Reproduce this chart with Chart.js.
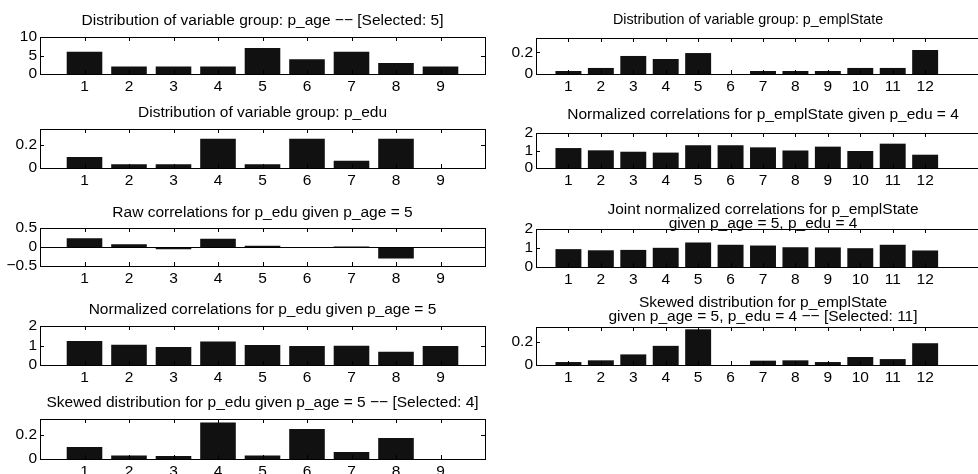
<!DOCTYPE html>
<html>
<head>
<meta charset="utf-8">
<title>Variable group distributions</title>
<script src="https://cdn.jsdelivr.net/npm/chart.js@4.4.1/dist/chart.umd.min.js"></script>
<style>
  html, body { margin: 0; padding: 0; background: #fff; }
  #fig { position: relative; width: 978px; height: 474px; overflow: hidden; }
  #fig canvas { position: absolute; }
</style>
</head>
<body>
<div id="fig"></div>
<script>
// categories
const ageCats = [1, 2, 3, 4, 5, 6, 7, 8, 9];
const eduCats = [1, 2, 3, 4, 5, 6, 7, 8, 9];
const emplCats = [1, 2, 3, 4, 5, 6, 7, 8, 9, 10, 11, 12];

// left column values
const ageCounts = [6, 2, 2, 2, 7, 4, 6, 3, 2];
const eduDist = [0.094, 0.031, 0.031, 0.25, 0.031, 0.25, 0.063, 0.25, 0];
const eduRawCorr = [0.23, 0.07, -0.06, 0.22, 0.035, -0.01, 0.01, -0.3, -0.01];
const eduNormCorr = [1.23, 1.04, 0.92, 1.2, 1.03, 0.97, 0.99, 0.68, 0.97];
const eduSkewed = [0.1, 0.03, 0.025, 0.305, 0.03, 0.25, 0.058, 0.175, 0];

// right column values
const emplDist = [0.028, 0.056, 0.167, 0.139, 0.194, 0, 0.028, 0.028, 0.028, 0.056, 0.056, 0.222];
const emplNormCorr = [1.14, 1.01, 0.93, 0.88, 1.3, 1.3, 1.18, 1.0, 1.22, 0.97, 1.39, 0.76];
const emplJointCorr = [0.94, 0.88, 0.9, 1.01, 1.29, 1.17, 1.13, 1.04, 1.03, 0.99, 1.17, 0.87];
const emplSkewed = [0.026, 0.041, 0.093, 0.168, 0.313, 0, 0.038, 0.041, 0.026, 0.07, 0.052, 0.191];

// y tick labels
const countTicks = [0, 5, 10];
const probTicks = [0, 0.2];
const corrTicks = [-0.5, 0, 0.5];
const normTicks = [0, 1, 2];

Chart.defaults.font.family = "'Liberation Sans', Arial, sans-serif";
Chart.defaults.font.size = 15.5;
Chart.defaults.color = '#000';

const fig = document.getElementById('fig');
const YW = 40;   // room for y tick labels, mirrored on the right so titles centre on the box
const XH = 24;   // room for x tick labels
const TICK = 4;

// matlab style box with inward ticks and zero baseline
const matlabAxes = {
  id: 'matlabAxes',
  afterDatasetsDraw(chart) {
    const { ctx, chartArea: a, scales: { x, y } } = chart;
    ctx.save();
    ctx.strokeStyle = '#000';
    ctx.lineWidth = 1;
    ctx.beginPath();
    if (y.min < 0) {
      const y0 = Math.round(y.getPixelForValue(0)) + 0.5;
      ctx.moveTo(a.left, y0);
      ctx.lineTo(a.right, y0);
    }
    x.ticks.forEach(t => {
      const px = Math.round(x.getPixelForValue(t.value)) + 0.5;
      ctx.moveTo(px, a.top); ctx.lineTo(px, a.top + TICK);
      ctx.moveTo(px, a.bottom); ctx.lineTo(px, a.bottom - TICK);
    });
    y.ticks.forEach(t => {
      const py = Math.round(y.getPixelForValue(t.value)) + 0.5;
      ctx.moveTo(a.left, py); ctx.lineTo(a.left + TICK, py);
      ctx.moveTo(a.right, py); ctx.lineTo(a.right - TICK, py);
    });
    ctx.stroke();
    ctx.strokeRect(a.left + 0.5, a.top + 0.5, a.width, a.height);
    ctx.restore();
  }
};

const fmtTick = v => (v < 0 ? '\u2212' + String(-v) : String(v));
const noGrid = { display: false, drawTicks: false };

function subplot(p) {
  const lines = Array.isArray(p.title) ? p.title.length : 1;
  const rightPad = p.rightPad ?? YW;
  const padBottom = p.gap - 7;
  const th = lines * 14 + padBottom;
  const w = (p.right - p.left) + YW + rightPad;
  const h = th + (p.bottom - p.top) + XH;

  const canvas = document.createElement('canvas');
  canvas.width = w;
  canvas.height = h;
  canvas.style.left = (p.left - YW) + 'px';
  canvas.style.top = (p.top - th) + 'px';
  canvas.style.width = w + 'px';
  canvas.style.height = h + 'px';
  fig.appendChild(canvas);

  new Chart(canvas, {
    type: 'bar',
    data: {
      datasets: [{
        data: p.cats.map((c, i) => ({ x: c, y: p.values[i] })),
        backgroundColor: '#111',
        borderWidth: 0,
        barPercentage: 0.8,
        categoryPercentage: 1,
      }],
    },
    options: {
      responsive: false,
      animation: false,
      devicePixelRatio: 1,
      layout: { padding: 0 },
      plugins: {
        legend: { display: false },
        tooltip: { enabled: false },
        title: {
          display: true,
          text: p.title,
          color: '#000',
          font: { size: p.titleSize || 15.5, weight: 'normal', lineHeight: '14px' },
          padding: { top: 0, bottom: padBottom },
        },
      },
      scales: {
        x: {
          type: 'linear',
          offset: false,
          min: 0,
          max: p.xMax,
          grid: noGrid,
          border: { display: false },
          afterBuildTicks: s => { s.ticks = p.cats.map(v => ({ value: v })); },
          afterFit: s => { s.height = XH; },
          ticks: { padding: 3, maxRotation: 0, autoSkip: false, callback: v => String(v) },
        },
        y: {
          type: 'linear',
          min: p.yMin,
          max: p.yMax,
          grid: noGrid,
          border: { display: false },
          afterBuildTicks: s => { s.ticks = p.yTicks.map(v => ({ value: v })); },
          afterFit: s => { s.width = YW; },
          ticks: { padding: 3, autoSkip: false, callback: fmtTick },
        },
        // empty right-hand scale, only reserves space
        yRight: {
          type: 'linear',
          position: 'right',
          grid: noGrid,
          border: { display: false },
          ticks: { display: false },
          afterFit: s => { s.width = rightPad; },
        },
      },
    },
    plugins: [matlabAxes],
  });
}

// left column
subplot({ left: 40, right: 485, top: 37, bottom: 74, gap: 16, xMax: 10,
  title: 'Distribution of variable group: p_age \u2212\u2212 [Selected: 5]',
  cats: ageCats, values: ageCounts, yMin: 0, yMax: 10, yTicks: countTicks });
subplot({ left: 40, right: 485, top: 129, bottom: 168, gap: 16, xMax: 10,
  title: 'Distribution of variable group: p_edu',
  cats: eduCats, values: eduDist, yMin: 0, yMax: 1 / 3, yTicks: probTicks });
subplot({ left: 40, right: 485, top: 228, bottom: 266, gap: 15, xMax: 10,
  title: 'Raw correlations for p_edu given p_age = 5',
  cats: eduCats, values: eduRawCorr, yMin: -0.5, yMax: 0.5, yTicks: corrTicks });
subplot({ left: 40, right: 485, top: 326, bottom: 365, gap: 16, xMax: 10,
  title: 'Normalized correlations for p_edu given p_age = 5',
  cats: eduCats, values: eduNormCorr, yMin: 0, yMax: 2, yTicks: normTicks });
subplot({ left: 40, right: 485, top: 419, bottom: 459, gap: 16, xMax: 10,
  title: 'Skewed distribution for p_edu given p_age = 5 \u2212\u2212 [Selected: 4]',
  cats: eduCats, values: eduSkewed, yMin: 0, yMax: 1 / 3, yTicks: probTicks });

// right column (box runs past the figure edge)
subplot({ left: 536, right: 990, top: 38, bottom: 74, gap: 18, xMax: 14, rightPad: 10, titleSize: 14.3,
  title: 'Distribution of variable group: p_emplState',
  cats: emplCats, values: emplDist, yMin: 0, yMax: 1 / 3, yTicks: probTicks });
subplot({ left: 536, right: 990, top: 133, bottom: 168, gap: 18, xMax: 14,
  title: 'Normalized correlations for p_emplState given p_edu = 4',
  cats: emplCats, values: emplNormCorr, yMin: 0, yMax: 2, yTicks: normTicks });
subplot({ left: 536, right: 990, top: 229, bottom: 267, gap: 5, xMax: 14,
  title: ['Joint normalized correlations for p_emplState', 'given p_age = 5, p_edu = 4'],
  cats: emplCats, values: emplJointCorr, yMin: 0, yMax: 2, yTicks: normTicks });
subplot({ left: 536, right: 990, top: 327, bottom: 365, gap: 10, xMax: 14,
  title: ['Skewed distribution for p_emplState', 'given p_age = 5, p_edu = 4 \u2212\u2212 [Selected: 11]'],
  cats: emplCats, values: emplSkewed, yMin: 0, yMax: 1 / 3, yTicks: probTicks });
</script>
</body>
</html>
